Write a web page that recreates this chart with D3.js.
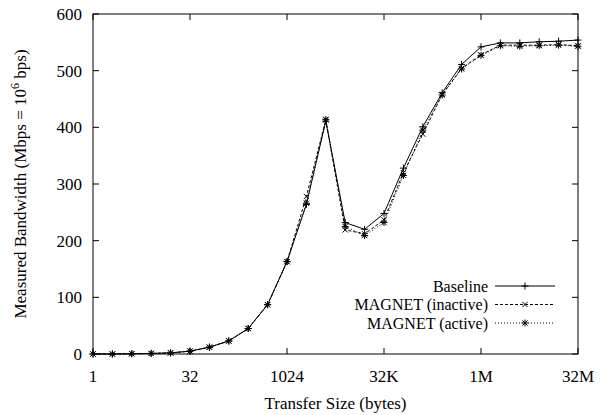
<!DOCTYPE html>
<html>
<head>
<meta charset="utf-8">
<script src="https://cdn.jsdelivr.net/npm/d3@7"></script>
<style>
  body { margin: 0; background: #fff; }
</style>
</head>
<body>
<div id="chart"></div>
<script>
// Data (transfer size = 2^exponent bytes)
var exponents = d3.range(0, 26);
var baseline = [0, 0, 0.5, 1, 2, 5, 12, 23, 45, 87, 163, 264, 411, 232, 220, 248, 328, 401, 461, 511, 542, 549, 549, 551, 552, 554];
var inactive = [0, 0, 0.5, 1, 2, 5, 12, 23, 45, 87, 163, 278, 413, 219, 212, 237, 320, 388, 458, 504, 528, 545, 545, 545, 546, 544];
var active   = [0, 0, 0.5, 1, 2, 5, 12, 23, 45, 87, 163, 266, 414, 225, 209, 232, 315, 395, 457, 503, 527, 544, 543, 544, 545, 543];
var seriesNames = ["Baseline", "MAGNET (inactive)", "MAGNET (active)"];
var xTickExps = [0, 5, 10, 15, 20, 25];
var xTickLabels = ["1", "32", "1024", "32K", "1M", "32M"];
var yTicks = [0, 100, 200, 300, 400, 500, 600];

// Canvas
var margin = { top: 14, right: 27, bottom: 61, left: 93 };
var width = 605 - margin.left - margin.right;
var height = 415 - margin.top - margin.bottom;
var font = "'Times New Roman', Times, 'Liberation Serif', 'DejaVu Serif', serif";

var svg = d3.select("#chart").append("svg")
    .attr("width", 605)
    .attr("height", 415)
    .attr("font-family", font);

var g = svg.append("g")
    .attr("transform", "translate(" + margin.left + "," + margin.top + ")");

var x = d3.scaleLinear().domain([0, 25]).range([0, width]);
var y = d3.scaleLinear().domain([0, 600]).range([height, 0]);

// frame
g.append("rect")
    .attr("width", width)
    .attr("height", height)
    .attr("fill", "none")
    .attr("stroke", "#000")
    .attr("stroke-width", 1);

var tickLen = 6;

// x ticks (bottom and mirrored top)
xTickExps.forEach(function(e, i) {
    g.append("line").attr("x1", x(e)).attr("x2", x(e)).attr("y1", height).attr("y2", height - tickLen).attr("stroke", "#000");
    g.append("line").attr("x1", x(e)).attr("x2", x(e)).attr("y1", 0).attr("y2", tickLen).attr("stroke", "#000");
    g.append("text")
        .attr("x", x(e))
        .attr("y", height + 28)
        .attr("text-anchor", "middle")
        .attr("font-size", 17)
        .text(xTickLabels[i]);
});

// y ticks (left and mirrored right)
yTicks.forEach(function(v) {
    g.append("line").attr("x1", 0).attr("x2", tickLen).attr("y1", y(v)).attr("y2", y(v)).attr("stroke", "#000");
    g.append("line").attr("x1", width).attr("x2", width - tickLen).attr("y1", y(v)).attr("y2", y(v)).attr("stroke", "#000");
    g.append("text")
        .attr("x", -11)
        .attr("y", y(v))
        .attr("dy", "0.35em")
        .attr("text-anchor", "end")
        .attr("font-size", 17)
        .text(v);
});

// axis titles
svg.append("text")
    .attr("x", margin.left + width / 2)
    .attr("y", 409)
    .attr("text-anchor", "middle")
    .attr("font-size", 17)
    .text("Transfer Size (bytes)");

var yTitle = svg.append("text")
    .attr("transform", "translate(26," + (margin.top + height / 2) + ") rotate(-90)")
    .attr("text-anchor", "middle")
    .attr("font-size", 17);
yTitle.append("tspan").text("Measured Bandwidth (Mbps = 10");
yTitle.append("tspan").attr("dy", -7).attr("font-size", 12).text("6");
yTitle.append("tspan").attr("dy", 7).text(" bps)");

// markers
function marker(sel, kind, cx, cy) {
    var s = 3.5;
    var p = "";
    if (kind === 0 || kind === 2) {
        p += "M" + (cx - s) + "," + cy + "L" + (cx + s) + "," + cy;
        p += "M" + cx + "," + (cy - s) + "L" + cx + "," + (cy + s);
    }
    if (kind === 1 || kind === 2) {
        var d = s * 0.75;
        p += "M" + (cx - d) + "," + (cy - d) + "L" + (cx + d) + "," + (cy + d);
        p += "M" + (cx - d) + "," + (cy + d) + "L" + (cx + d) + "," + (cy - d);
    }
    sel.append("path").attr("d", p).attr("stroke", "#000").attr("stroke-width", 1).attr("fill", "none");
}

var dashes = [null, "3,2", "1,2"];
var allSeries = [baseline, inactive, active];

var line = d3.line()
    .x(function(d, i) { return x(exponents[i]); })
    .y(function(d) { return y(d); });

allSeries.forEach(function(vals, k) {
    g.append("path")
        .attr("d", line(vals))
        .attr("fill", "none")
        .attr("stroke", "#000")
        .attr("stroke-width", 1)
        .attr("stroke-dasharray", dashes[k]);
    vals.forEach(function(v, i) {
        marker(g, k, x(exponents[i]), y(v));
    });
});

// legend
var legendY = [286, 304.5, 323];
seriesNames.forEach(function(name, k) {
    svg.append("text")
        .attr("x", 488)
        .attr("y", legendY[k])
        .attr("dy", "0.35em")
        .attr("text-anchor", "end")
        .attr("font-size", 16)
        .text(name);
    svg.append("line")
        .attr("x1", 495).attr("x2", 555)
        .attr("y1", legendY[k]).attr("y2", legendY[k])
        .attr("stroke", "#000")
        .attr("stroke-width", 1)
        .attr("stroke-dasharray", dashes[k]);
    marker(svg, k, 525, legendY[k]);
});
</script>
</body>
</html>
